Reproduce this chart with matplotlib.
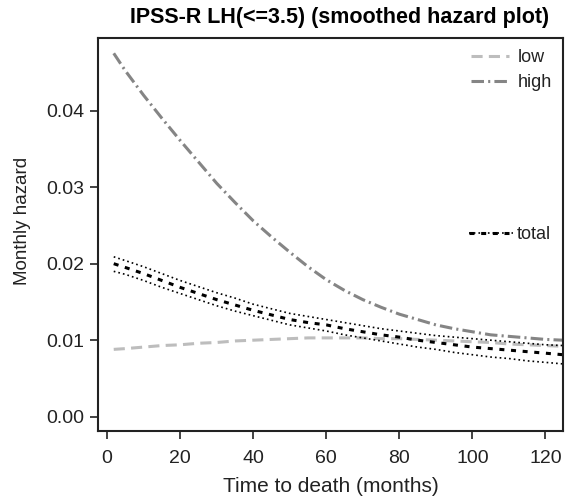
import numpy as np
import matplotlib
matplotlib.use("Agg")
import matplotlib.pyplot as plt
from matplotlib.legend_handler import HandlerTuple

plt.rcParams['font.family'] = ['Liberation Sans', 'DejaVu Sans']
plt.rcParams['lines.scale_dashes'] = False

# time to death (months)
months = [1.8, 5, 10, 15, 20, 25, 30, 35, 40, 45, 50, 55, 60, 65, 70, 75,
          80, 85, 90, 95, 100, 105, 110, 115, 120, 124.8]

# smoothed monthly hazard
haz_low = [0.0088, 0.0089, 0.0091, 0.0093, 0.0094, 0.0096, 0.0097, 0.0099,
           0.0100, 0.0101, 0.0102, 0.0103, 0.0103, 0.0103, 0.0103, 0.0102,
           0.0102, 0.0101, 0.0100, 0.0099, 0.0098, 0.0097, 0.0095, 0.0094,
           0.0093, 0.0092]
haz_high = [0.0475, 0.0452, 0.0420, 0.0390, 0.0361, 0.0333, 0.0305, 0.0280,
            0.0256, 0.0235, 0.0215, 0.0196, 0.0179, 0.0165, 0.0153, 0.0143,
            0.0134, 0.0127, 0.0120, 0.0115, 0.0111, 0.0107, 0.0105, 0.0103,
            0.0101, 0.0100]
haz_total = [0.0200, 0.0195, 0.0187, 0.0178, 0.0169, 0.0161, 0.0153, 0.0146,
             0.0139, 0.0133, 0.0127, 0.0123, 0.0120, 0.0115, 0.0111, 0.0107,
             0.0104, 0.0100, 0.0097, 0.0094, 0.0091, 0.0089, 0.0087, 0.0085,
             0.0083, 0.0081]
total_upper = [0.0209, 0.0204, 0.0196, 0.0187, 0.0178, 0.0170, 0.0162, 0.0155,
               0.0147, 0.0141, 0.0135, 0.0131, 0.0127, 0.0123, 0.0119, 0.0115,
               0.0112, 0.0109, 0.0106, 0.0104, 0.0102, 0.0100, 0.0098, 0.0096,
               0.0094, 0.0093]
total_lower = [0.0190, 0.0186, 0.0178, 0.0169, 0.0161, 0.0153, 0.0145, 0.0138,
               0.0132, 0.0126, 0.0120, 0.0116, 0.0112, 0.0107, 0.0103, 0.0099,
               0.0095, 0.0091, 0.0088, 0.0084, 0.0081, 0.0078, 0.0076, 0.0073,
               0.0071, 0.0069]

fig = plt.figure(figsize=(5.65, 5.0), dpi=100)
ax = fig.add_axes([0.1735, 0.138, 0.823, 0.786])

l_low, = ax.plot(months, haz_low, color='#bdbdbd', lw=2.2, dashes=(8, 4.5), label='low')
l_high, = ax.plot(months, haz_high, color='#858585', lw=2.2,
                  dashes=(9, 3, 1.5, 3), label='high')
l_up, = ax.plot(months, total_upper, color='black', lw=1.2, dashes=(1.2, 2.2))
ax.plot(months, total_lower, color='black', lw=1.2, dashes=(1.2, 2.2))
l_tot, = ax.plot(months, haz_total, color='black', lw=2.2, dashes=(3.6, 4.8))

ax.set_xlim(-2.5, 124.8)
ax.set_ylim(-0.00187, 0.0495)
ax.set_xticks([0, 20, 40, 60, 80, 100, 120])
ax.set_yticks([0.0, 0.01, 0.02, 0.03, 0.04])
ax.set_yticklabels(['0.00', '0.01', '0.02', '0.03', '0.04'])
ax.tick_params(direction='out', length=6, width=1.2, labelsize=14,
               colors='#222222')
ax.tick_params(axis='x', pad=8)
ax.tick_params(axis='y', pad=4)

for s in ax.spines.values():
    s.set_linewidth(1.5)
    s.set_color('#222222')

ax.set_xlabel('Time to death (months)', fontsize=15, color='#222222')
ax.xaxis.set_label_coords(0.5, -0.118)
ax.set_ylabel('Monthly hazard', fontsize=13.5, color='#222222')
ax.yaxis.set_label_coords(-0.145, 0.535)
ax.set_title('IPSS-R LH(<=3.5) (smoothed hazard plot)', fontsize=15.5,
             fontweight='bold', pad=11, x=0.52)

leg1 = ax.legend(handles=[l_low, l_high], loc='upper right', frameon=False,
                 fontsize=13, handlelength=2.1, borderaxespad=0.2,
                 labelspacing=0.45, handletextpad=0.5, labelcolor='#222222')
ax.add_artist(leg1)
ax.legend(handles=[(l_up, l_tot)], labels=['total'],
          handler_map={tuple: HandlerTuple(ndivide=1, pad=0)},
          loc='center right', bbox_to_anchor=(1.0, 0.5), frameon=False,
          fontsize=13, handlelength=2.4, borderaxespad=0.3, handletextpad=0.2,
          labelcolor='#222222')

fig.savefig('out.png', dpi=100)
